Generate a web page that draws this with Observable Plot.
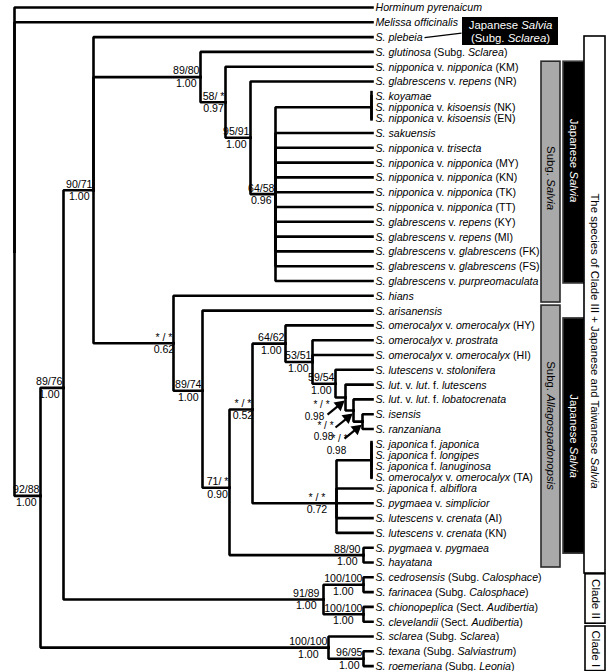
<!DOCTYPE html>
<html><head><meta charset="utf-8">
<script src="https://cdn.jsdelivr.net/npm/d3@7"></script>
<script src="https://cdn.jsdelivr.net/npm/@observablehq/plot@0.6"></script>
<style>
html,body{margin:0;padding:0;background:#fff;}
#chart svg{display:block;}
</style>
</head><body><div id="chart"></div>
<script>
// ================= DATA =================
// Leaf labels, top to bottom (_..._ marks italic text)
const taxa = [
 "_Horminum pyrenaicum_",
 "_Melissa officinalis_",
 "_S. plebeia_",
 "_S. glutinosa_ (Subg. _Sclarea_)",
 "_S. nipponica_ v. _nipponica_ (KM)",
 "_S. glabrescens_ v. _repens_ (NR)",
 "_S. koyamae_",
 "_S. nipponica_ v. _kisoensis_ (NK)",
 "_S. nipponica_ v. _kisoensis_ (EN)",
 "_S. sakuensis_",
 "_S. nipponica_ v. _trisecta_",
 "_S. nipponica_ v. _nipponica_ (MY)",
 "_S. nipponica_ v. _nipponica_ (KN)",
 "_S. nipponica_ v. _nipponica_ (TK)",
 "_S. nipponica_ v. _nipponica_ (TT)",
 "_S. glabrescens_ v. _repens_ (KY)",
 "_S. glabrescens_ v. _repens_ (MI)",
 "_S. glabrescens_ v. _glabrescens_ (FK)",
 "_S. glabrescens_ v. _glabrescens_ (FS)",
 "_S. glabrescens_ v. _purpreomaculata_",
 "_S. hians_",
 "_S. arisanensis_",
 "_S. omerocalyx_ v. _omerocalyx_ (HY)",
 "_S. omerocalyx_ v. _prostrata_",
 "_S. omerocalyx_ v. _omerocalyx_ (HI)",
 "_S. lutescens_ v. _stolonifera_",
 "_S. lut_. v. _lut_. f. _lutescens_",
 "_S. lut_. v. _lut_. f. _lobatocrenata_",
 "_S. isensis_",
 "_S. ranzaniana_",
 "_S. japonica_ f. _japonica_",
 "_S. japonica_ f. _longipes_",
 "_S. japonica_ f. _lanuginosa_",
 "_S. omerocalyx_ v. _omerocalyx_ (TA)",
 "_S. japonica_ f. _albiflora_",
 "_S. pygmaea_ v. _simplicior_",
 "_S. lutescens_ v. _crenata_ (AI)",
 "_S. lutescens_ v. _crenata_ (KN)",
 "_S. pygmaea_ v. _pygmaea_",
 "_S. hayatana_",
 "_S. cedrosensis_ (Subg. _Calosphace_)",
 "_S. farinacea_ (Subg. _Calosphace_)",
 "_S. chionopeplica_ (Sect. _Audibertia_)",
 "_S. clevelandii_ (Sect. _Audibertia_)",
 "_S. sclarea_ (Subg. _Sclarea_)",
 "_S. texana_ (Subg. _Salviastrum_)",
 "_S. roemeriana_ (Subg. _Leonia_)"
];
// parent node of each leaf (same order as taxa)
const taxonParent = [
 "root","root","n9071","n8980","n58","n9591",
 "pKoy","pKoy","pKoy",
 "n6458","n6458","n6458","n6458","n6458","n6458","n6458","n6458","n6458","n6458","n6458",
 "n062","n8974","n6462","n5351","n5351","n5954","nA","nB","nC","nC",
 "pJap","pJap","pJap","pJap",
 "n072","n072","n072","n072",
 "n8890","n8890","nCal","nCal","nAud","nAud","nC1","n9695","n9695"
];
// leaves drawn closer together (index -> fraction of a row gap before it)
const tightGaps = [[7,0.74],[8,0.74],[31,0.74],[32,0.74],[33,0.74],[34,0.8]];
// internal nodes: id, parent, depth, bootstrap, posterior, row (where the picture departs from the midpoint)
const nodes = [
 ["root", null, 0, "", "", null],
 ["n9288","root", 26, "92/88", "1.00", 33.0],
 ["n8976","n9288", 49, "89/76", "1.00", 25.7],
 ["n9071","n8976", 79, "90/71", "1.00", null],
 ["n8980","n9071",186, "89/80", "1.00", null],
 ["n58",  "n8980",211, "58/ *", "0.97", null],
 ["n9591","n58",  236, "95/91", "1.00", null],
 ["n6458","n9591",261, "64/58", "0.96", null],
 ["pKoy", "n6458",357, "", "", null],
 ["n062", "n9071",159, "* / *", "0.62", null],
 ["n8974","n062", 188, "89/74", "1.00", 25.9],
 ["n71",  "n8974",215, "71/ *", "0.90", 32.45],
 ["n052", "n71",  238, "* / *", "0.52", 27.16],
 ["n6462","n052", 271, "64/62", "1.00", null],
 ["n5351","n6462",298, "53/51", "1.00", null],
 ["n5954","n5351",321, "59/54", "1.00", null],
 ["nA",   "n5954",331, "* / *", "0.98", null],
 ["nB",   "nA",   339, "* / *", "0.98", null],
 ["nC",   "nB",   348, "* / *", "0.98", null],
 ["n072", "n052", 322, "* / *", "0.72", 33.5],
 ["pJap", "n072", 357, "", "", null],
 ["n8890","n71",  349, "88/90", "1.00", null],
 ["nC2",  "n8976",309, "91/89", "1.00", null],
 ["nCal", "nC2",  349, "100/100", "1.00", null],
 ["nAud", "nC2",  349, "100/100", "1.00", null],
 ["nC1",  "n9288",314, "100/100", "1.00", null],
 ["n9695","nC1",  349, "96/95", "1.00", null]
];
const polytomyBars = ["pKoy", "pJap"];
const arrowNodes = ["nA", "nB", "nC"];
// side brackets: label, first leaf, last leaf, kind
const groupBars = [
 ["Subg. _Salvia_", 4, 20, "gray"],
 ["Japanese _Salvia_", 4, 19, "black"],
 ["Subg. _Allagospadonopsis_", 21, 39, "gray"],
 ["Japanese _Salvia_", 22, 38, "black"],
 ["The species of Clade III + Japanese and Taiwanese _Salvia_", 2, 39, "white"],
 ["Clade II", 40, 43, "clade"],
 ["Clade I", 44, 46, "clade"]
];
const calloutLeaf = 2;
const calloutText = "Japanese _Salvia_\n(Subg. _Sclarea_)";

// ================= LAYOUT =================
const FONT = "'Liberation Sans', Arial, Helvetica, sans-serif";
const FS = 10.6;
const Y0 = 7, Y1 = 665.6, ROWS = 44.5;
const ROW_PX = (Y1 - Y0) / ROWS;
const TIP = 358;
const px2row = (dy) => dy / ROW_PX;

const gapMap = new Map(tightGaps);
const leafRow = []; { let r = 0; taxa.forEach((t, i) => { if (i > 0) r += gapMap.get(i) ?? 1; leafRow.push(r); }); }

const nodeMap = new Map();
for (const [id, parent, depth, boot, post, fix] of nodes) nodeMap.set(id, {id, parent, depth, boot, post, fix, kids: []});
for (const n of nodeMap.values()) if (n.parent) nodeMap.get(n.parent).kids.push(n);
const leaves = taxa.map((label, i) => {
  const p = nodeMap.get(taxonParent[i]);
  const L = {id: "L" + i, label, parent: p.id, row: leafRow[i], depth: polytomyBars.includes(p.id) ? p.depth : TIP};
  p.kids.push(L);
  return L;
});
function rowOf(n) {
  if (n.row != null) return n.row;
  const rs = n.kids.map(rowOf);
  n.row = n.fix ?? (Math.min(...rs) + Math.max(...rs)) / 2;
  return n.row;
}
rowOf(nodeMap.get("root"));

// branch polylines (elbow: parent vertical then horizontal to child)
const segs = [];
for (const c of [...nodeMap.values(), ...leaves]) {
  if (!c.parent) continue;
  const p = nodeMap.get(c.parent);
  segs.push({z: c.id, x: p.depth, y: p.row}, {z: c.id, x: p.depth, y: c.row}, {z: c.id, x: c.depth, y: c.row});
}
// polytomy bars extend slightly beyond first/last leaf
const barExt = polytomyBars.map(id => {
  const n = nodeMap.get(id); const rs = n.kids.map(k => k.row);
  return {x: n.depth, y1: Math.min(...rs) - px2row(id === "pKoy" ? 5.5 : 3), y2: Math.max(...rs) + px2row(2.5)};
});

// measure text widths
const ctx = document.createElement("canvas").getContext("2d");
function tw(s, size) { ctx.font = `${size}px ${FONT}`; return ctx.measureText(s).width; }

const labelShift = {n072: 10, n8890: 2, nC2: 3};
const supportNodes = [...nodeMap.values()].filter(n => n.boot && !arrowNodes.includes(n.id));
const bootData = supportNodes.map(n => ({x: n.depth - 1 - (labelShift[n.id] || 0), y: n.row, text: n.boot}));
const postData = supportNodes.map(n => ({
  x: n.depth - 1 - (labelShift[n.id] || 0) - (tw(n.boot, FS) - tw(n.post, FS)) / 2, y: n.row, text: n.post}));

// arrows for the three short internodes
const arrowOffsets = {nA: {b: [-24, 7], p: [-31, 19]}, nB: {b: [-28, 15], p: [-30, 26]}, nC: {b: [-23, 17], p: [-26, 29]}};
const arrowShafts = [], arrowHeads = [], arrowText = [];
for (const id of arrowNodes) {
  const n = nodeMap.get(id);
  const tip = [n.depth - 2, n.row + px2row(4)];
  const vx = 16, vy = -13, L = Math.hypot(vx, vy), ux = vx / L, uy = vy / L;
  const tail = [tip[0] - vx, tip[1] - px2row(vy)];
  arrowShafts.push({x1: tail[0], y1: tail[1], x2: tip[0] - 6 * ux, y2: tip[1] - px2row(6 * uy)});
  arrowHeads.push({x: tip[0] - 5 * ux, y: tip[1] - px2row(5 * uy), r: Math.atan2(ux, -uy) * 180 / Math.PI});
  const o = arrowOffsets[id];
  arrowText.push({x: n.depth + o.b[0], y: n.row + px2row(o.b[1]), text: n.boot});
  arrowText.push({x: n.depth + o.p[0], y: n.row + px2row(o.p[1]), text: n.post});
}

// side bars
const barCols = {gray: [527, 546], black: [549, 570], white: [570, 591], clade: [571, 591]};
const barPads = [[5, 6.7], [5, 2.5], [5, 5], [7, 6], [0.6, 11], [3, 2], [10, 5]];
const barTextShift = [-4, -12, -11, 0, 36, 0, 0];
const barFill = {gray: "#a9a9a9", black: "#000", white: "#fff", clade: "#fff"};
const barStroke = {gray: "#2a2a2a", black: "#3a3a3a", white: "#000", clade: "#000"};
const barTextFill = {gray: "#000", black: "#fff", white: "#000", clade: "#000"};
const barTextSize = {gray: 11.4, black: 11.4, white: 11.4, clade: 11.6};
const bars = groupBars.map(([label, a, b, kind], i) => {
  const [x1, x2] = barCols[kind];
  const y1 = leafRow[a] - px2row(barPads[i][0]), y2 = leafRow[b] + px2row(barPads[i][1]);
  return {label, kind, x1, x2, y1, y2, xm: (x1 + x2) / 2, ym: (y1 + y2) / 2 + px2row(barTextShift[i])};
});
// callout box next to S. plebeia
const cRow = leafRow[calloutLeaf];
const callBox = [{x1: 448, x2: 544, y1: cRow - px2row(19.6), y2: cRow + px2row(8.4)}];
const callLine = [{x1: 410, y1: cRow + px2row(0.5), x2: 447, y2: cRow - px2row(4)}];
const callText = [{x: 496, y: cRow - px2row(6), text: calloutText}];

// ================= PLOT =================
const chart = Plot.plot({
  width: 607, height: 671, margin: 0,
  style: {fontFamily: FONT, fontSize: FS + "px", background: "#fff", color: "#000", overflow: "visible"},
  x: {domain: [0, 593], range: [14, 607], axis: null},
  y: {domain: [0, ROWS], range: [Y0, Y1], axis: null},
  marks: [
    Plot.line(segs, {x: "x", y: "y", z: "z", stroke: "#000", strokeWidth: 2.6, strokeLinejoin: "miter", strokeLinecap: "square"}),
    Plot.link(barExt, {x1: "x", x2: "x", y1: "y1", y2: "y2", stroke: "#000", strokeWidth: 2.6}),
    Plot.text(leaves, {x: TIP, y: "row", text: "label", textAnchor: "start", dx: 3, dy: 0.5, fontSize: FS, fill: "#000"}),
    Plot.text(bootData, {x: "x", y: "y", text: "text", textAnchor: "end", dy: -6, fontSize: FS, fill: "#000"}),
    Plot.text(postData, {x: "x", y: "y", text: "text", textAnchor: "end", dy: 6.5, fontSize: FS, fill: "#000"}),
    Plot.link(arrowShafts, {x1: "x1", y1: "y1", x2: "x2", y2: "y2", stroke: "#000", strokeWidth: 2.2}),
    Plot.dot(arrowHeads, {x: "x", y: "y", rotate: "r", symbol: "triangle", r: 4.2, fill: "#000", stroke: "none"}),
    Plot.text(arrowText, {x: "x", y: "y", text: "text", textAnchor: "middle", fontSize: 10, fill: "#000"}),
    Plot.rect(bars, {x1: "x1", x2: "x2", y1: "y1", y2: "y2", fill: d => barFill[d.kind], stroke: d => barStroke[d.kind], strokeWidth: 1.6}),
    Plot.text(bars, {x: "xm", y: "ym", text: "label", rotate: 90, textAnchor: "middle", fontSize: d => barTextSize[d.kind], fill: d => barTextFill[d.kind]}),
    Plot.link(callLine, {x1: "x1", y1: "y1", x2: "x2", y2: "y2", stroke: "#000", strokeWidth: 1.3}),
    Plot.rect(callBox, {x1: "x1", x2: "x2", y1: "y1", y2: "y2", fill: "#000"}),
    Plot.text(callText, {x: "x", y: "y", text: "text", textAnchor: "middle", fontSize: 11.4, lineHeight: 1.15, fill: "#fff"})
  ]
});

// italic segments marked with _..._
function italicize(el) {
  const lines = el.querySelectorAll(":scope > tspan");
  const targets = lines.length ? [...lines] : [el];
  for (const t of targets) {
    const s = t.textContent;
    if (!s.includes("_")) continue;
    t.textContent = "";
    s.split("_").forEach((part, i) => {
      if (!part) return;
      const sp = document.createElementNS("http://www.w3.org/2000/svg", "tspan");
      if (i % 2 === 1) sp.setAttribute("font-style", "italic");
      sp.textContent = part;
      t.appendChild(sp);
    });
  }
  el.style.whiteSpace = "pre";
}
chart.querySelectorAll("text").forEach(italicize);
document.getElementById("chart").appendChild(chart);
</script>
</body></html>
